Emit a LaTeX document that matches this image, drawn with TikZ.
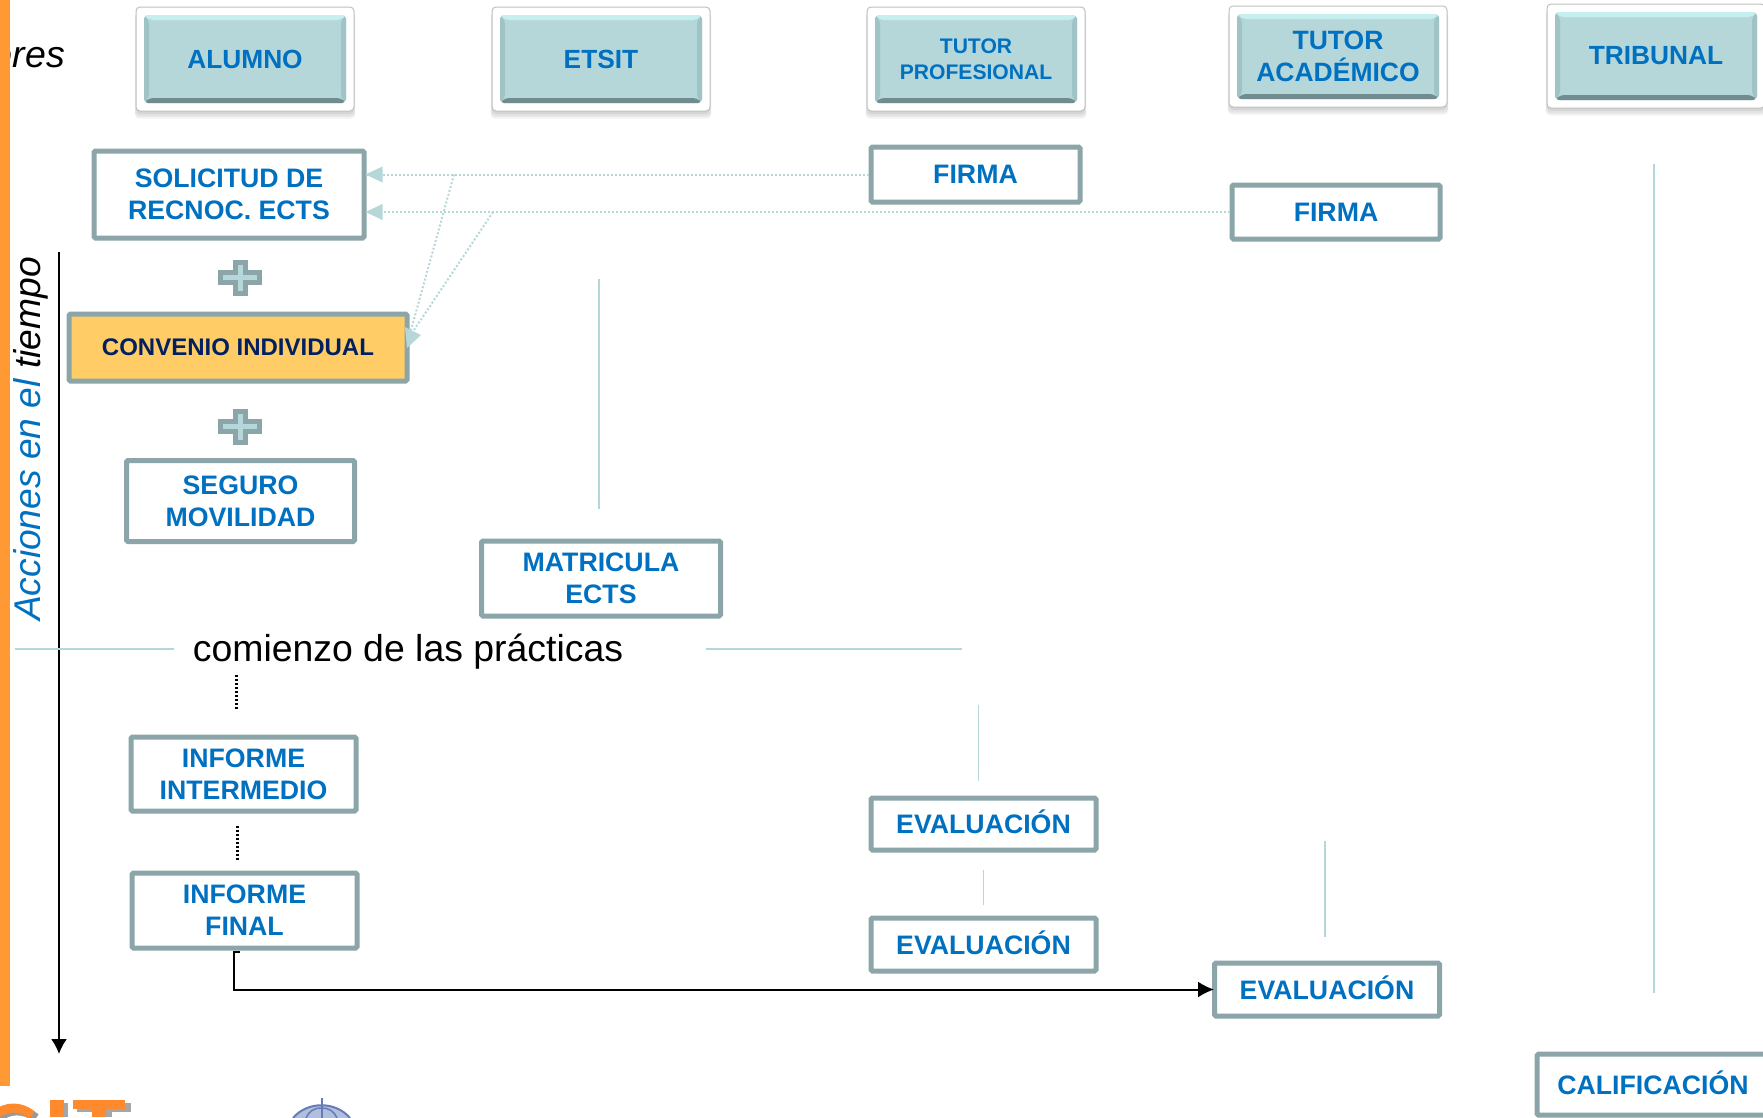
\documentclass[tikz,border=0pt]{standalone}
\usepackage{fontspec}
\setmainfont{Liberation Sans}
\usepackage{tikz}
\usetikzlibrary{calc,shadows,arrows.meta}
\definecolor{mybar}{RGB}{255,153,51}
\definecolor{myblue}{RGB}{0,112,192}
\definecolor{mynavy}{RGB}{0,32,96}
\definecolor{myteal}{RGB}{182,215,217}
\definecolor{mylight}{RGB}{198,240,240}
\definecolor{myside}{RGB}{160,196,198}
\definecolor{mydark}{RGB}{112,140,142}
\definecolor{myborder}{RGB}{139,165,168}
\definecolor{myyellow}{RGB}{255,204,102}
\definecolor{mycrown}{RGB}{100,125,185}
\tikzset{
    headerbox/.style={draw=black!25, line width=1pt, fill=white, rounded corners=4pt,
        minimum width=218pt, minimum height=104pt, inner sep=0pt, align=center,
        text=myblue, font=\bfseries\fontsize{26.3}{31}\selectfont,
        drop shadow={opacity=0.10, shadow xshift=0pt, shadow yshift=-7pt, shadow scale=1.01},
        drop shadow={opacity=0.12, shadow xshift=0pt, shadow yshift=-5pt, shadow scale=1.01},
        drop shadow={opacity=0.15, shadow xshift=0pt, shadow yshift=-3pt},
        path picture={
            \coordinate (nw) at ($(path picture bounding box.north west)+(8,8)$);
            \coordinate (se) at ($(path picture bounding box.south east)+(-8,-8)$);
            \coordinate (ne) at (se |- nw);
            \coordinate (sw) at (nw |- se);
            \fill[myteal] (nw) rectangle (se);
            \fill[myside] (nw) -- ($(nw)+(5,5)$) -- ($(sw)+(5,-5)$) -- (sw) -- cycle;
            \fill[myside] (ne) -- ++(-5,5) -- ($(se)+(-5,-5)$) -- (se) -- cycle;
            \fill[mylight] (nw) -- (ne) -- ++(-5,5) -- ($(nw)+(5,5)$) -- cycle;
            \fill[mydark] (sw) -- (se) -- ++(-5,-5) -- ($(sw)+(5,-5)$) -- cycle;
        }},
    actionbox/.style={draw=myborder, line width=5pt, fill=white, rounded corners=1.5pt,
        inner sep=0pt, align=center, text=myblue,
        font=\bfseries\fontsize{26.7}{32}\selectfont},
    evalbox/.style={draw=myborder, line width=5pt, fill=white, rounded corners=1.5pt,
        inner sep=0pt, text=myblue, text height=19pt, text depth=0pt,
        font=\bfseries\fontsize{26.7}{32}\selectfont},
    plussign/.style={draw=myborder, line width=5pt, fill=myteal},
    dottedlink/.style={myteal, line width=2pt, dash pattern=on 2pt off 2pt},
    lightline/.style={myteal, line width=1.6pt},
    blackdots/.style={black, line width=2.2pt, dash pattern=on 2pt off 2pt},
}

\begin{document}
\begin{tikzpicture}[x=1pt, y=-1pt]
    \useasboundingbox (0,0) rectangle (1763,1117);
    \clip (0,0) rectangle (1763,1117);
    \begin{scope}
        % Left side texts and orange bar
        \node[anchor=base east, inner sep=0pt, font=\itshape\fontsize{37.5}{38}\selectfont] (actores) at (65,67) {Actores};
        \fill[mybar] (0,0) rectangle (10,1086);
        \node[rotate=90, inner sep=0pt, font=\itshape\fontsize{37.2}{37}\selectfont] (acciones) at (31,439) {\textcolor{myblue}{Acciones en el} tiempo};
        \coordinate (timetop) at (59,252);
        \coordinate (timeend) at (59,1054);
        \draw[line width=2pt, -{Latex[length=15pt,width=16pt]}] (timetop) -- (timeend);

        % Header row
        \node[headerbox] (alumno) at (245,59) {ALUMNO};
        \node[headerbox] (etsit) at (601,59) {ETSIT};
        \node[headerbox, font=\bfseries\fontsize{21.1}{26}\selectfont] (tutorprof) at (976,59) {TUTOR\\PROFESIONAL};
        \node[headerbox, minimum height=101pt, font=\bfseries\fontsize{26.5}{31.5}\selectfont] (tutoracad) at (1338,56.5) {TUTOR\\ACADÉMICO};
        \node[headerbox] (tribunal) at (1656,56) {TRIBUNAL};

        % Alumno column
        \node[actionbox, minimum width=270pt, minimum height=87pt] (solicitud) at (229,194.5) {SOLICITUD DE\\RECNOC. ECTS};
        \node[actionbox, minimum width=338pt, minimum height=67pt, fill=myyellow, text=mynavy,
            font=\bfseries\fontsize{24}{28}\selectfont] (convenio) at (238,347.5) {CONVENIO INDIVIDUAL};
        \node[actionbox, minimum width=228pt, minimum height=81pt] (seguro) at (240.5,501) {SEGURO\\MOVILIDAD};
        \node[actionbox, minimum width=225pt, minimum height=74pt] (infointer) at (243.5,774) {INFORME\\INTERMEDIO};
        \node[actionbox, minimum width=225pt, minimum height=75pt] (infofinal) at (244.5,910.5) {INFORME\\FINAL};

        % Plus signs
        \draw[plussign] (235.5,262.5) -- ++(10,0) -- ++(0,10) -- ++(14,0) -- ++(0,10) -- ++(-14,0) -- ++(0,11)
            -- ++(-10,0) -- ++(0,-11) -- ++(-15,0) -- ++(0,-10) -- ++(15,0) -- cycle;
        \draw[plussign] (235.5,411.5) -- ++(10,0) -- ++(0,10) -- ++(14,0) -- ++(0,10) -- ++(-14,0) -- ++(0,11)
            -- ++(-10,0) -- ++(0,-11) -- ++(-15,0) -- ++(0,-10) -- ++(15,0) -- cycle;

        % Other columns
        \node[actionbox, minimum width=239pt, minimum height=75pt] (matricula) at (601,578.5) {MATRICULA\\ECTS};
        \node[actionbox, minimum width=209pt, minimum height=55pt] (firmaprof) at (975.5,174.5) {FIRMA};
        \node[actionbox, minimum width=208pt, minimum height=54pt] (firmaacad) at (1336,212) {FIRMA};
        \node[evalbox, minimum width=225pt, minimum height=52pt] (evaluno) at (983.5,824) {EVALUACIÓN};
        \node[evalbox, minimum width=225pt, minimum height=53pt] (evaldos) at (983.5,944.5) {EVALUACIÓN};
        \node[evalbox, minimum width=225pt, minimum height=53pt] (evaltres) at (1327,989.5) {EVALUACIÓN};
        \node[evalbox, minimum width=232pt, minimum height=61pt] (calificacion) at (1653,1084.5) {CALIFICACIÓN};

        % Start of the internship
        \node[inner sep=0pt, font=\fontsize{37.4}{37}\selectfont] (comienzo) at (408,652) {comienzo de las prácticas};
        \draw[lightline] ($(comienzo.west)+(-19,-3)$) -- ++(-159,0);
        \draw[lightline] ($(comienzo.east)+(83,-3)$) -- ++(256,0);

        % Signature links
        \coordinate (brprof) at (454,0 |- firmaprof.west);
        \coordinate (bracad) at (493,0 |- firmaacad.west);
        \coordinate (convtip) at (421,335);
        \draw[dottedlink] (firmaprof.west) -- (firmaprof.west -| solicitud.east);
        \draw[dottedlink] (firmaacad.west) -- (firmaacad.west -| solicitud.east);
        \fill[myteal] (solicitud.east |- firmaprof.west) ++(-1,0) -- ++(17,-8) -- ++(0,16) -- cycle;
        \fill[myteal] (solicitud.east |- firmaacad.west) ++(-1,0) -- ++(17,-8) -- ++(0,16) -- cycle;
        \draw[dottedlink] (brprof) -- (411,330);
        \draw[dottedlink] (bracad) -- (414,330);
        \fill[myteal] (convtip) -- (405,327) -- (407,348) -- cycle;

        % Light vertical lines
        \draw[lightline] ($(matricula.north)+(-2,-260)$) -- ++(0,230);
        \draw[lightline] ($(evaluno.north)+(-5,-91)$) -- ++(0,76);
        \draw[lightline] ($(evaluno.south)+(0,17)$) -- ++(0,35);
        \draw[lightline] ($(evaltres.north)+(-2,-120)$) -- ++(0,96);
        \draw[lightline] ($(tribunal.south)+(-2,55)$) -- ($(calificacion.north)+(1,-59)$);

        % Black dots and final arrow
        \draw[blackdots] ($(infointer.north)+(-7,-60)$) -- ++(0,34);
        \draw[blackdots] ($(infofinal.north)+(-7,-45)$) -- ++(0,34);
        \draw[line width=2pt, -{Latex[length=16pt,width=16pt]}, shorten >=-2pt] ($(infofinal.south)+(-5,1)$) -- ++(-5.5,0) |- (evaltres.west);

        % Logos cut by the bottom edge
        \draw[black!40, line width=9pt] (-2,1118) to[bend left=40] (36,1118);
        \draw[mybar!90!red, line width=9pt] (-5,1115) to[bend left=40] (32,1115);
        \fill[black!35] (54,1103) rectangle (68,1117);
        \fill[mybar!90!red] (50,1100) rectangle (64,1117);
        \fill[black!35] (77,1103) rectangle (131,1112);
        \fill[black!35] (98,1112) rectangle (112,1117);
        \fill[mybar!90!red] (73,1100) rectangle (125,1109);
        \fill[mybar!90!red] (92,1109) rectangle (106,1117);
        \fill[mycrown!50!white] (293,1118) to[bend left=50] (350,1118) -- cycle;
        \draw[mycrown, line width=2pt] (293,1118) to[bend left=50] (350,1118);
        \draw[mycrown, line width=1.5pt] (306,1118) to[bend left=35] (321.5,1108) to[bend left=35] (337,1118);
        \draw[mycrown, line width=2pt] (321.5,1098) -- (321.5,1118);
    \end{scope}
\end{tikzpicture}
\end{document}
